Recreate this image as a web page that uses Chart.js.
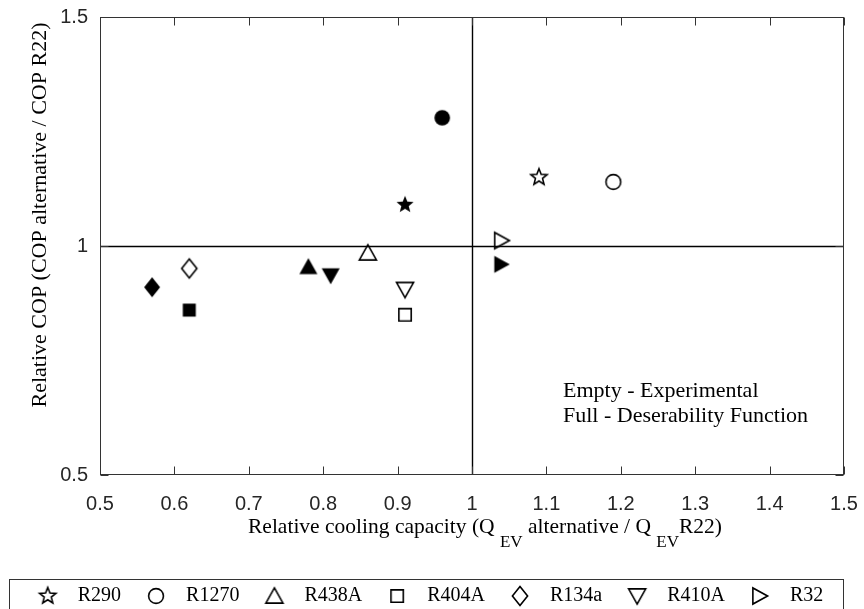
<!DOCTYPE html>
<html lang="en">
<head>
  <meta charset="UTF-8" />
  <title>Relative COP vs relative cooling capacity</title>
  <script src="https://cdn.jsdelivr.net/npm/chart.js"></script>
  <style>
    body { margin: 0; background: #fff; }
    canvas { display: block; }
  </style>
</head>
<body>
  <canvas id="chart" width="864" height="609"></canvas>

  <script>
    const refrigerants = ['R290', 'R1270', 'R438A', 'R404A', 'R134a', 'R410A', 'R32'];
    const shapes = ['star', 'circle', 'triUp', 'square', 'diamond', 'triDown', 'triRight'];

    // Empty markers - experimental
    const expX = [1.09, 1.19, 0.86, 0.91, 0.62, 0.91, 1.04];
    const expY = [1.15, 1.14, 0.985, 0.85, 0.951, 0.905, 1.012];

    // Full markers - desirability function
    const desX = [0.91, 0.96, 0.78, 0.62, 0.57, 0.81, 1.04];
    const desY = [1.09, 1.28, 0.955, 0.86, 0.91, 0.935, 0.96];

    const xMin = 0.5, xMax = 1.5, xStep = 0.1;
    const yMin = 0.5, yMax = 1.5, yStep = 0.5;

    const serif = "'Liberation Serif', 'Times New Roman', serif";
    const sans = "'Liberation Sans', Arial, sans-serif";

    // draws one marker glyph into a small canvas, used as pointStyle
    function makeMarker(shape, filled) {
      const s = 26, c = s / 2;
      const cv = document.createElement('canvas');
      cv.width = s; cv.height = s;
      const g = cv.getContext('2d');
      const k = filled ? 1 : 0.95;
      g.beginPath();
      if (shape === 'circle') {
        g.arc(c, c, 7.8 * k, 0, Math.PI * 2);
      } else if (shape === 'square') {
        g.rect(c - 6.5 * k, c - 6.5 * k, 13 * k, 13 * k);
      } else if (shape === 'diamond') {
        g.moveTo(c, c - 10 * k); g.lineTo(c + 8 * k, c); g.lineTo(c, c + 10 * k); g.lineTo(c - 8 * k, c);
      } else if (shape === 'triUp') {
        g.moveTo(c, c - 8.5 * k); g.lineTo(c + 9 * k, c + 7.5 * k); g.lineTo(c - 9 * k, c + 7.5 * k);
      } else if (shape === 'triDown') {
        g.moveTo(c, c + 8.5 * k); g.lineTo(c + 9 * k, c - 7.5 * k); g.lineTo(c - 9 * k, c - 7.5 * k);
      } else if (shape === 'triRight') {
        g.moveTo(c + 8 * k, c); g.lineTo(c - 7.5 * k, c - 8.5 * k); g.lineTo(c - 7.5 * k, c + 8.5 * k);
      } else if (shape === 'star') {
        const R = 9 * k, r = 3.9 * k;
        for (let i = 0; i < 10; i++) {
          const a = -Math.PI / 2 + i * Math.PI / 5;
          const rr = i % 2 ? r : R;
          const px = c + rr * Math.cos(a), py = c + rr * Math.sin(a);
          i ? g.lineTo(px, py) : g.moveTo(px, py);
        }
      }
      g.closePath();
      if (filled) {
        g.fillStyle = '#000';
        g.fill();
      } else {
        g.strokeStyle = '#000';
        g.lineWidth = 1.6;
        g.stroke();
      }
      return cv;
    }

    const datasets = [];
    refrigerants.forEach((name, i) => {
      datasets.push({
        label: name,
        data: [{ x: expX[i], y: expY[i] }],
        pointStyle: makeMarker(shapes[i], false)
      });
    });
    refrigerants.forEach((name, i) => {
      datasets.push({
        label: name + ' (DF)',
        data: [{ x: desX[i], y: desY[i] }],
        pointStyle: makeMarker(shapes[i], true)
      });
    });

    function line(ctx, x1, y1, x2, y2) {
      ctx.beginPath(); ctx.moveTo(x1, y1); ctx.lineTo(x2, y2); ctx.stroke();
    }

    const framePlugin = {
      id: 'frame',
      beforeDatasetsDraw(chart) {
        const { ctx, chartArea: a, scales: { x, y } } = chart;
        ctx.save();
        ctx.strokeStyle = '#000';
        ctx.lineWidth = 1.4;
        const x1 = Math.round(x.getPixelForValue(1)) + 0.5;
        const y1 = Math.round(y.getPixelForValue(1)) + 0.5;
        line(ctx, x1, a.top, x1, a.bottom);
        line(ctx, a.left, y1, a.right, y1);

        ctx.strokeStyle = '#333';
        ctx.lineWidth = 1;
        const L = Math.round(a.left) + 0.5, R = Math.round(a.right) - 0.5;
        const T = Math.round(a.top) + 0.5, B = Math.round(a.bottom) - 0.5;
        ctx.strokeRect(L, T, R - L, B - T);
        x.ticks.forEach(t => {
          const px = Math.round(x.getPixelForValue(t.value)) + 0.5;
          line(ctx, px, B, px, B - 8);
          line(ctx, px, T, px, T + 8);
        });
        y.ticks.forEach(t => {
          const py = Math.round(y.getPixelForValue(t.value)) + 0.5;
          line(ctx, L, py, L + 8, py);
          line(ctx, R, py, R - 8, py);
        });
        ctx.restore();
      },
      afterDraw(chart) {
        const { ctx, chartArea: a } = chart;
        ctx.save();
        ctx.fillStyle = '#000';

        // y axis title
        ctx.font = '22px ' + serif;
        ctx.textAlign = 'center';
        ctx.textBaseline = 'middle';
        ctx.translate(40, (a.top + a.bottom) / 2 - 31);
        ctx.rotate(-Math.PI / 2);
        ctx.fillText('Relative COP (COP alternative / COP R22)', 0, 0);
        ctx.setTransform(1, 0, 0, 1, 0, 0);

        // x axis title with subscripts
        const parts = [
          ['Relative cooling capacity (Q ', false],
          ['EV', true],
          [' alternative / Q ', false],
          ['EV', true],
          ['R22)', false]
        ];
        const font = sub => (sub ? '17px ' : '21.5px ') + serif;
        let w = 0;
        parts.forEach(([t, s]) => { ctx.font = font(s); w += ctx.measureText(t).width; });
        let cx = (a.left + a.right) / 2 + 13 - w / 2;
        const base = a.bottom + 58;
        ctx.textAlign = 'left';
        ctx.textBaseline = 'alphabetic';
        parts.forEach(([t, s]) => {
          ctx.font = font(s);
          ctx.fillText(t, cx, s ? base + 14 : base);
          cx += ctx.measureText(t).width;
        });

        // annotation
        ctx.font = '22px ' + serif;
        ctx.fillText('Empty - Experimental', a.left + 463, a.top + 380);
        ctx.fillText('Full - Deserability Function', a.left + 463, a.top + 405);

        // legend frame
        const boxes = chart.legend.legendHitBoxes;
        if (boxes.length) {
          const top = Math.round(boxes[0].top - 7) + 0.5;
          ctx.strokeStyle = '#333';
          ctx.lineWidth = 1;
          ctx.strokeRect(9.5, top, Math.round(a.right) - 10, chart.height + 10 - top);
        }
        ctx.restore();
      }
    };

    Chart.defaults.font.family = serif;
    Chart.defaults.color = '#000';

    new Chart(document.getElementById('chart'), {
      type: 'scatter',
      data: { datasets },
      options: {
        responsive: false,
        animation: false,
        layout: { autoPadding: false, padding: { top: 17, left: 7, right: 20, bottom: -7 } },
        elements: { point: { radius: 8, hoverRadius: 8 } },
        scales: {
          x: {
            type: 'linear',
            min: xMin, max: xMax,
            grid: { display: false, drawTicks: false },
            border: { display: false },
            ticks: {
              stepSize: xStep,
              padding: 17,
              color: '#262626',
              font: { family: sans, size: 20 },
              callback: v => String(+v.toFixed(1))
            },
            afterFit: s => { s.height = 96; s.paddingLeft = 0; s.paddingRight = 0; }
          },
          y: {
            type: 'linear',
            min: yMin, max: yMax,
            grid: { display: false, drawTicks: false },
            border: { display: false },
            ticks: {
              stepSize: yStep,
              padding: 12,
              color: '#262626',
              font: { family: sans, size: 20 },
              callback: v => String(+v.toFixed(1))
            },
            afterFit: s => { s.width = 93; s.paddingTop = 0; s.paddingBottom = 0; }
          }
        },
        plugins: {
          tooltip: { enabled: false },
          legend: {
            position: 'bottom',
            onClick: null,
            labels: {
              usePointStyle: true,
              pointStyleWidth: 40,
              boxHeight: 20,
              padding: 15,
              font: { size: 20, family: serif },
              color: '#000',
              filter: item => item.datasetIndex < refrigerants.length
            }
          }
        }
      },
      plugins: [framePlugin]
    });
  </script>
</body>
</html>
